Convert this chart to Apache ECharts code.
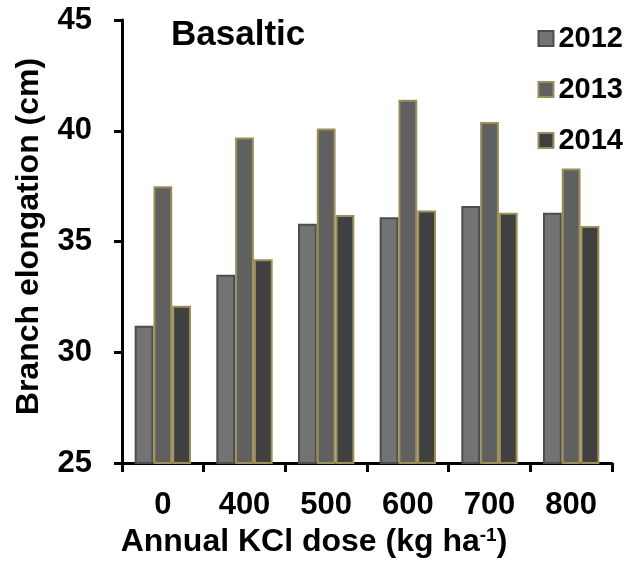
<!DOCTYPE html>
<html>
<head>
<meta charset="utf-8">
<script src="https://cdn.jsdelivr.net/npm/echarts@6/dist/echarts.min.js"></script>
<style>
  html, body { margin: 0; padding: 0; background: #fff; }
  #chart { width: 633px; height: 563px; }
</style>
</head>
<body>
<div id="chart"></div>
<script>
const doses = ['0', '400', '500', '600', '700', '800']
const v2012 = [31.2, 33.5, 35.8, 36.1, 36.6, 36.3]
const v2013 = [37.5, 39.7, 40.1, 41.4, 40.4, 38.3]
const v2014 = [32.1, 34.2, 36.2, 36.4, 36.3, 35.7]
const yTicks = [25, 30, 35, 40, 45]

const font = 'Liberation Sans, Arial, sans-serif'

const chart = echarts.init(document.getElementById('chart'))

function bar(name, data, fill, border) {
  return {
    name: name,
    type: 'bar',
    data: data,
    barGap: '0%',
    barCategoryGap: '31%',
    itemStyle: { color: fill, borderColor: border, borderWidth: 2 }
  }
}

chart.setOption({
  animation: false,
  textStyle: { fontFamily: font },
  title: {
    text: 'Basaltic',
    left: 171,
    top: 18,
    padding: 0,
    textStyle: { fontFamily: font, fontWeight: 'bold', fontSize: 35, color: '#000' }
  },
  legend: {
    orient: 'vertical',
    right: 5,
    top: 19,
    itemWidth: 15,
    itemHeight: 15,
    itemGap: 22,
    icon: 'rect',
    textStyle: { fontFamily: font, fontWeight: 'bold', fontSize: 29, color: '#000' },
    data: ['2012', '2013', '2014']
  },
  grid: { left: 122, right: 21, top: 20, bottom: 96 },
  xAxis: {
    type: 'category',
    data: doses,
    axisLine: { lineStyle: { color: '#000', width: 3 } },
    axisTick: { show: true, length: 9, lineStyle: { color: '#000', width: 3 } },
    axisLabel: { margin: 27, fontFamily: font, fontWeight: 'bold', fontSize: 31, color: '#000' },
    name: 'Annual KCl dose (kg ha{sup|-1})',
    nameLocation: 'middle',
    nameGap: 57,
    nameTextStyle: {
      fontFamily: font, fontWeight: 'bold', fontSize: 32, color: '#000',
      padding: [0, 106, 0, 0],
      rich: {
        sup: { fontFamily: font, fontWeight: 'bold', fontSize: 19, color: '#000', verticalAlign: 'top', padding: [0, 0, 12, 0] }
      }
    }
  },
  yAxis: {
    type: 'value',
    min: yTicks[0],
    max: yTicks[yTicks.length - 1],
    interval: 5,
    splitLine: { show: false },
    axisLine: { show: true, lineStyle: { color: '#000', width: 3 } },
    axisTick: { show: true, length: 8, lineStyle: { color: '#000', width: 3 } },
    axisLabel: { margin: 30, fontFamily: font, fontWeight: 'bold', fontSize: 31, color: '#000' },
    name: 'Branch elongation (cm)',
    nameLocation: 'middle',
    nameGap: 77,
    nameTextStyle: { fontFamily: font, fontWeight: 'bold', fontSize: 32, color: '#000', padding: [0, 0, 0, 10] }
  },
  series: [
    bar('2012', v2012, '#737373', '#4d4d4d'),
    bar('2013', v2013, '#606060', '#9a8f58'),
    bar('2014', v2014, '#404040', '#9a8f58')
  ]
})
</script>
</body>
</html>
